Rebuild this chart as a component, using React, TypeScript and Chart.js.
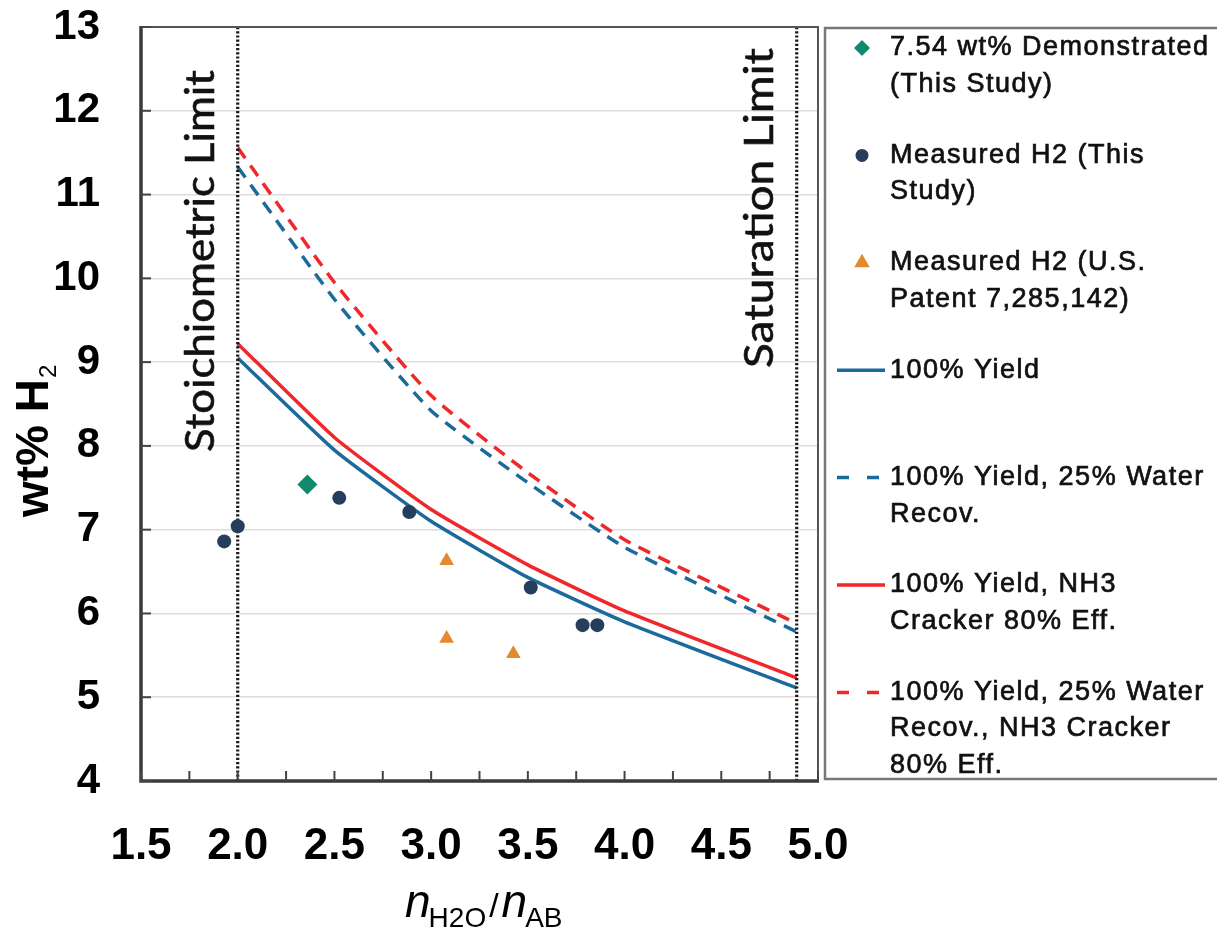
import React, { useEffect, useRef } from "react";
import { Chart, registerables } from "chart.js";

Chart.register(...registerables);

// ---------------- data ----------------
const curveX = [2.0, 2.5, 3.0, 3.5, 4.0, 4.89];
const yield100 = [9.05, 7.95, 7.1, 6.43, 5.9, 5.11];
const yieldWater = [11.33, 9.75, 8.42, 7.56, 6.79, 5.78];
const yieldCracker = [9.22, 8.1, 7.24, 6.58, 6.03, 5.23];
const yieldWaterCracker = [11.56, 9.95, 8.6, 7.68, 6.88, 5.88];

const demoX = [2.36];
const demoY = [7.54];
const thisStudyX = [1.93, 2.0, 2.525, 2.887, 3.515, 3.783, 3.859];
const thisStudyY = [6.86, 7.04, 7.38, 7.21, 6.31, 5.86, 5.86];
const patentX = [3.08, 3.08, 3.425];
const patentY = [6.63, 5.7, 5.52];

const limitX = [2.0, 4.89];
const limitYRange = [4, 13];
const limitLabels = ["Stoichiometric Limit", "Saturation Limit"];

const xTickValues = [1.5, 2.0, 2.5, 3.0, 3.5, 4.0, 4.5, 5.0];
const xTickLabels = ["1.5", "2.0", "2.5", "3.0", "3.5", "4.0", "4.5", "5.0"];
const yTickValues = [4, 5, 6, 7, 8, 9, 10, 11, 12, 13];
const yTickLabels = ["4", "5", "6", "7", "8", "9", "10", "11", "12", "13"];

const legendDemo = ["7.54 wt% Demonstrated", "(This Study)"];
const legendThisStudy = ["Measured H2 (This", "Study)"];
const legendPatent = ["Measured H2 (U.S.", "Patent 7,285,142)"];
const legendYield = ["100% Yield"];
const legendWater = ["100% Yield, 25% Water", "Recov."];
const legendCracker = ["100% Yield, NH3", "Cracker 80% Eff."];
const legendWaterCracker = ["100% Yield, 25% Water", "Recov., NH3 Cracker", "80% Eff."];

// ---------------- styles ----------------
const BLUE = "#1b6a9c";
const RED = "#f0272b";
const NAVY = "#263d5c";
const GREEN = "#108a6c";
const ORANGE = "#e38a2f";
const FONT = "'Liberation Sans', Arial, sans-serif";

const pts = (xs: number[], ys: number[]) => xs.map((x, i) => ({ x, y: ys[i] }));

const decorPlugin = {
  id: "decor",
  afterDraw(chart: any) {
    const ctx: CanvasRenderingContext2D = chart.ctx;
    const { left, right, top, bottom } = chart.chartArea;
    const xs = chart.scales.x;
    const ys = chart.scales.y;
    ctx.save();

    // frame
    ctx.strokeStyle = "#555";
    ctx.lineWidth = 2;
    ctx.beginPath();
    ctx.moveTo(left, top);
    ctx.lineTo(right, top);
    ctx.lineTo(right, bottom);
    ctx.stroke();
    ctx.strokeStyle = "#3a3a3a";
    ctx.lineWidth = 3.5;
    ctx.beginPath();
    ctx.moveTo(left, top - 1);
    ctx.lineTo(left, bottom);
    ctx.lineTo(right + 1, bottom);
    ctx.stroke();

    // inward tick marks
    ctx.strokeStyle = "#444";
    ctx.lineWidth = 2;
    ys.ticks.forEach((t: any) => {
      const p = ys.getPixelForValue(t.value);
      ctx.beginPath();
      ctx.moveTo(left, p);
      ctx.lineTo(left + 10, p);
      ctx.stroke();
    });
    xs.ticks.forEach((t: any) => {
      const p = xs.getPixelForValue(t.value);
      ctx.beginPath();
      ctx.moveTo(p, bottom);
      ctx.lineTo(p, bottom - 10);
      ctx.stroke();
    });

    // limit labels (rotated)
    const labelStart = [452, 368];
    const labelLen = [382, 320];
    limitLabels.forEach((txt, i) => {
      const px = xs.getPixelForValue(limitX[i]);
      ctx.save();
      ctx.font = "41px Lato, 'Open Sans', sans-serif";
      ctx.fillStyle = "#111";
      ctx.strokeStyle = "#111";
      ctx.lineWidth = 0.6;
      const w = ctx.measureText(txt).width;
      ctx.translate(px - 24, labelStart[i]);
      ctx.rotate(-Math.PI / 2);
      ctx.scale(labelLen[i] / w, 1);
      ctx.textAlign = "left";
      ctx.textBaseline = "alphabetic";
      ctx.fillText(txt, 0, 0);
      ctx.strokeText(txt, 0, 0);
      ctx.restore();
    });

    // y axis title
    ctx.save();
    ctx.fillStyle = "#000";
    ctx.translate(48, 517);
    ctx.rotate(-Math.PI / 2);
    ctx.textAlign = "left";
    ctx.textBaseline = "alphabetic";
    ctx.font = `bold 46px ${FONT}`;
    ctx.fillText("wt% H", 0, 0);
    const wy = ctx.measureText("wt% H").width;
    ctx.font = `24px ${FONT}`;
    ctx.fillText("2", wy + 1, 8);
    ctx.restore();

    // x axis title
    ctx.save();
    ctx.fillStyle = "#000";
    ctx.textAlign = "left";
    ctx.textBaseline = "alphabetic";
    let cx = 405;
    ctx.font = `italic 46px ${FONT}`;
    ctx.fillText("n", cx, 917);
    cx += ctx.measureText("n").width - 2;
    ctx.font = `28px ${FONT}`;
    ctx.fillText("H2O", cx, 927);
    cx += ctx.measureText("H2O").width + 3;
    ctx.font = `34px ${FONT}`;
    ctx.fillText("/", cx, 917);
    cx += ctx.measureText("/").width + 3;
    ctx.font = `italic 46px ${FONT}`;
    ctx.fillText("n", cx, 917);
    cx += ctx.measureText("n").width - 2;
    ctx.font = `28px ${FONT}`;
    ctx.fillText("AB", cx, 927);
    ctx.restore();

    // legend box
    ctx.strokeStyle = "#777";
    ctx.lineWidth = 2.5;
    ctx.strokeRect(825, 28, 420, 751);

    const items = chart.data.datasets.filter((d: any) => d.legendText);
    const firstY = 48;
    const stepY = 107.4;
    const lineH = 36.5;
    items.forEach((d: any, k: number) => {
      const cy = firstY + k * stepY;
      ctx.save();
      if (d.showLine) {
        ctx.strokeStyle = d.borderColor;
        ctx.lineWidth = 3.5;
        ctx.setLineDash(d.borderDash && d.borderDash.length ? [12, 18] : []);
        ctx.beginPath();
        ctx.moveTo(837, cy);
        ctx.lineTo(885, cy);
        ctx.stroke();
      } else {
        ctx.fillStyle = d.backgroundColor;
        const mx = 862;
        ctx.beginPath();
        if (d.pointStyle === "rectRot") {
          const r = 8;
          ctx.moveTo(mx, cy - r);
          ctx.lineTo(mx + r, cy);
          ctx.lineTo(mx, cy + r);
          ctx.lineTo(mx - r, cy);
          ctx.closePath();
        } else if (d.pointStyle === "triangle") {
          const r = 9;
          ctx.moveTo(mx, cy - r);
          ctx.lineTo(mx + r * 0.866, cy + r / 2);
          ctx.lineTo(mx - r * 0.866, cy + r / 2);
          ctx.closePath();
        } else {
          ctx.arc(mx, cy, 6.5, 0, Math.PI * 2);
        }
        ctx.fill();
      }
      ctx.restore();
      ctx.save();
      ctx.fillStyle = "#111";
      ctx.strokeStyle = "#111";
      ctx.lineWidth = 0.7;
      ctx.font = `27px ${FONT}`;
      (ctx as any).letterSpacing = "1.5px";
      ctx.textAlign = "left";
      ctx.textBaseline = "middle";
      d.legendText.forEach((line: string, j: number) => {
        ctx.fillText(line, 890, cy + j * lineH);
        ctx.strokeText(line, 890, cy + j * lineH);
      });
      ctx.restore();
    });

    ctx.restore();
  },
};

export default function App() {
  const ref = useRef<HTMLCanvasElement | null>(null);

  useEffect(() => {
    if (!ref.current) return;
    const lineDs = (data: number[], color: string, dashed: boolean, legendText: string[]) => ({
      data: pts(curveX, data),
      showLine: true,
      borderColor: color,
      backgroundColor: color,
      borderWidth: 3.5,
      borderDash: dashed ? [13, 9] : [],
      pointRadius: 0,
      tension: 0.15,
      legendText,
    });
    const limitDs = (x: number) => ({
      data: pts([x, x], limitYRange),
      showLine: true,
      borderColor: "#1a1a1a",
      borderWidth: 3.2,
      borderDash: [2.2, 2],
      pointRadius: 0,
    });
    const chart = new Chart(ref.current, {
      type: "scatter",
      data: {
        datasets: [
          {
            data: pts(demoX, demoY),
            pointStyle: "rectRot",
            pointRadius: 10,
            backgroundColor: GREEN,
            borderColor: GREEN,
            borderWidth: 0,
            showLine: false,
            legendText: legendDemo,
          } as any,
          {
            data: pts(thisStudyX, thisStudyY),
            pointStyle: "circle",
            pointRadius: 7,
            backgroundColor: NAVY,
            borderColor: NAVY,
            borderWidth: 0,
            showLine: false,
            legendText: legendThisStudy,
          },
          {
            data: pts(patentX, patentY),
            pointStyle: "triangle",
            pointRadius: 8.5,
            backgroundColor: ORANGE,
            borderColor: ORANGE,
            borderWidth: 0,
            showLine: false,
            legendText: legendPatent,
          },
          limitDs(limitX[0]),
          limitDs(limitX[1]),
          lineDs(yield100, BLUE, false, legendYield),
          lineDs(yieldWater, BLUE, true, legendWater),
          lineDs(yieldCracker, RED, false, legendCracker),
          lineDs(yieldWaterCracker, RED, true, legendWaterCracker),
        ],
      },
      options: {
        animation: false,
        responsive: false,
        events: [],
        layout: { padding: { left: 0, top: 27, right: 399, bottom: 0 } },
        plugins: {
          legend: { display: false },
          tooltip: { enabled: false },
        },
        scales: {
          x: {
            type: "linear",
            min: 1.5,
            max: 5.0,
            afterFit: (s: any) => {
              s.height = 148;
              s.paddingLeft = 0;
              s.paddingRight = 0;
            },
            grid: { display: false, drawTicks: false },
            border: { display: false },
            ticks: {
              stepSize: 0.25,
              autoSkip: false,
              maxRotation: 0,
              padding: 39,
              color: "#000",
              font: { family: FONT, size: 44, weight: "bold" },
              callback: (v: any) => {
                const i = xTickValues.findIndex((t) => Math.abs(t - Number(v)) < 1e-6);
                return i >= 0 ? xTickLabels[i] : "";
              },
            },
          },
          y: {
            type: "linear",
            min: 4,
            max: 13,
            afterFit: (s: any) => {
              s.width = 141;
              s.paddingTop = 0;
              s.paddingBottom = 0;
            },
            grid: { color: "#e2dbdb", lineWidth: 1.5, drawTicks: false },
            border: { display: false },
            ticks: {
              stepSize: 1,
              padding: 41,
              color: "#000",
              font: { family: FONT, size: 42, weight: "bold" },
              callback: (v: any) => {
                const i = yTickValues.findIndex((t) => Math.abs(t - Number(v)) < 1e-6);
                return i >= 0 ? yTickLabels[i] : "";
              },
            },
          },
        },
      } as any,
      plugins: [decorPlugin],
    });
    return () => chart.destroy();
  }, []);

  return (
    <div
      style={{
        position: "absolute",
        left: 0,
        top: 0,
        width: 1217,
        height: 929,
        background: "#fff",
        overflow: "hidden",
      }}
    >
      <canvas ref={ref} width={1217} height={929} style={{ display: "block" }} />
    </div>
  );
}
